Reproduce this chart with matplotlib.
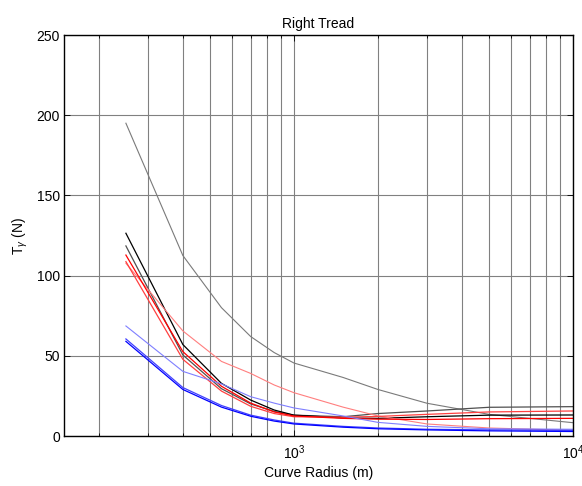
import matplotlib
matplotlib.use("Agg")
import matplotlib.pyplot as plt
from matplotlib.ticker import FixedLocator, NullFormatter, FixedFormatter

plt.rcParams['font.family'] = ['Liberation Sans', 'DejaVu Sans']
plt.rcParams['mathtext.fontset'] = 'custom'
plt.rcParams['mathtext.rm'] = 'Liberation Sans'
plt.rcParams['mathtext.it'] = 'Liberation Sans:italic'

radius = [250, 400, 550, 700, 850, 1000, 1500, 2000, 3000, 5000, 10000]

gray_light = [195, 112.5, 80, 62, 52, 45.5, 36.5, 29, 20.4, 13.5, 8.3]
black = [126.4, 57, 32.8, 22.4, 16.2, 13, 11.3, 11, 12, 13, 13.1]
gray_dark = [118.5, 50.5, 29.5, 20, 15.3, 13, 12, 14, 15.6, 17.9, 18.3]
red = [112.8, 52.6, 31, 20.5, 15, 12.5, 11, 10.5, 10.3, 10.8, 11]
red_mid = [108.7, 47.8, 28, 18.5, 14, 12, 11.7, 12.2, 13.5, 15, 15.6]
red_light = [107.7, 65.5, 46.5, 39, 31.8, 27, 18, 12.5, 7.5, 5, 3.5]
blue_light = [68.6, 40.3, 32.5, 24.5, 20.5, 17.5, 12.5, 8.5, 6, 4.5, 4.2]
blue_mid = [60.5, 30.2, 19, 13, 10, 8, 6, 5, 4.2, 3.8, 3.5]
blue = [59, 29, 18, 12.3, 9.3, 7.5, 5.5, 4.5, 3.8, 3.2, 2.8]

series = [
    (gray_light, '#7a7a7a', 0.8),
    (gray_dark, '#505050', 0.9),
    (black, '#000000', 0.9),
    (red_light, '#ff7f7f', 0.8),
    (red_mid, '#ff4040', 0.9),
    (red, '#ff0000', 0.9),
    (blue_light, '#7f7fff', 0.8),
    (blue_mid, '#4040ff', 0.9),
    (blue, '#0000ff', 0.9),
]

fig = plt.figure(figsize=(5.82, 4.86), dpi=100)
ax = fig.add_axes([64/582, 1-436/486, (573-64)/582, (436-35)/486])

for vals, col, lw in series:
    ax.plot(radius, vals, color=col, lw=lw)

ax.set_xscale('log')
ax.set_xlim(150, 10000)
ax.set_ylim(0, 250)

major = [1000, 10000]
minor = [200, 300, 400, 500, 600, 700, 800, 900,
         2000, 3000, 4000, 5000, 6000, 7000, 8000, 9000]
ax.xaxis.set_major_locator(FixedLocator(major))
ax.xaxis.set_major_formatter(FixedFormatter(['$10^{3}$', '$10^{4}$']))
ax.xaxis.set_minor_locator(FixedLocator(minor))
ax.xaxis.set_minor_formatter(NullFormatter())
ax.set_yticks([0, 50, 100, 150, 200, 250])

ax.grid(True, which='both', axis='x', color='#808080', lw=0.8, ls='-')
ax.grid(True, which='major', axis='y', color='#808080', lw=0.8, ls='-')
ax.set_axisbelow(True)

ax.tick_params(which='both', direction='in', top=True, right=True, labelsize=10,
               width=0.6, color='black')
ax.tick_params(which='major', length=4)
ax.tick_params(which='minor', length=2.5)
ax.tick_params(axis='x', pad=5)
ax.tick_params(axis='y', pad=3)

for sp in ax.spines.values():
    sp.set_linewidth(1.0)
    sp.set_color('black')

ax.set_title('Right Tread', fontsize=10, pad=5)
ax.set_xlabel('Curve Radius (m)', fontsize=10, labelpad=3)
ax.set_ylabel('T$_{\\gamma}$ (N)', fontsize=10, labelpad=5)

fig.savefig('out.png', dpi=100)
